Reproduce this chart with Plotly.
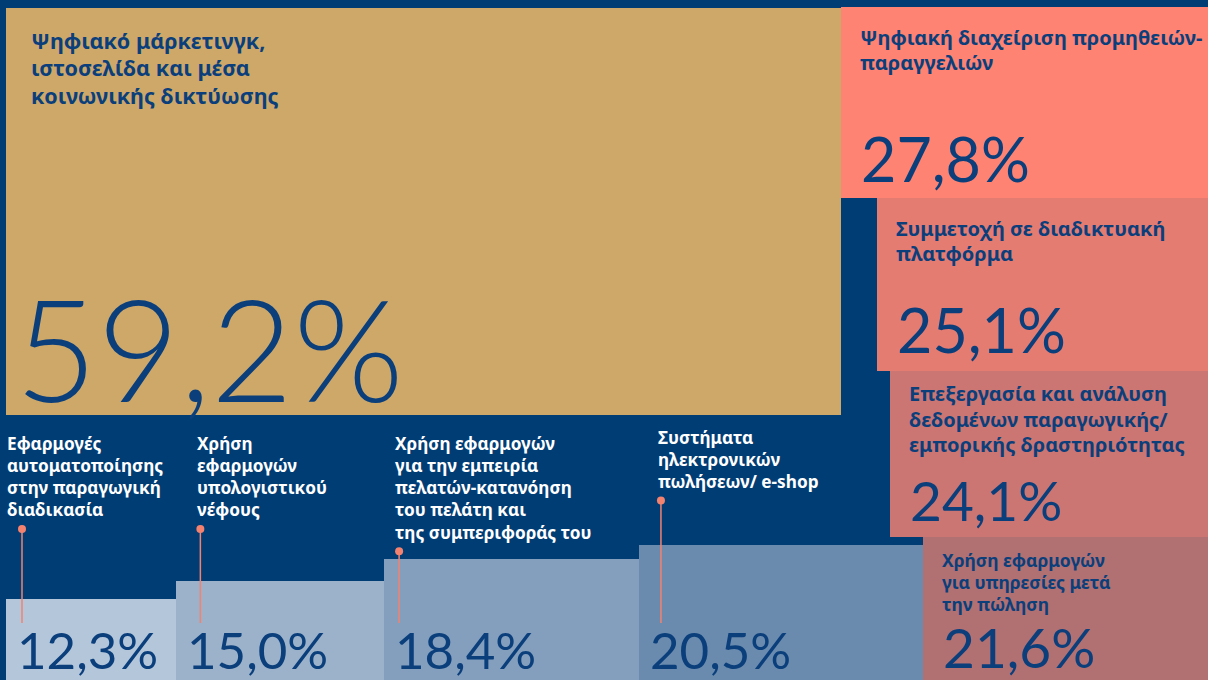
import plotly.graph_objects as go

# ---------------- DATA ----------------
main_label = ["Ψηφιακό μάρκετινγκ,", "ιστοσελίδα και μέσα", "κοινωνικής δικτύωσης"]
main_value = 59.2

right_labels = [
    ["Ψηφιακή διαχείριση προμηθειών-", "παραγγελιών"],
    ["Συμμετοχή σε διαδικτυακή", "πλατφόρμα"],
    ["Επεξεργασία και ανάλυση", "δεδομένων παραγωγικής/", "εμπορικής δραστηριότητας"],
    ["Χρήση εφαρμογών", "για υπηρεσίες μετά", "την πώληση"],
]
right_values = [27.8, 25.1, 24.1, 21.6]

bottom_labels = [
    ["Εφαρμογές", "αυτοματοποίησης", "στην παραγωγική", "διαδικασία"],
    ["Χρήση", "εφαρμογών", "υπολογιστικού", "νέφους"],
    ["Χρήση εφαρμογών", "για την εμπειρία", "πελατών-κατανόηση", "του πελάτη και", "της συμπεριφοράς του"],
    ["Συστήματα", "ηλεκτρονικών", "πωλήσεων/ e-shop"],
]
bottom_values = [12.3, 15.0, 18.4, 20.5]

# ---------------- STYLE / LAYOUT ----------------
W, H = 1208, 680
TOP, LEFT = 7, 6
KX_RIGHT = 13.2      # px per % (width, right column)
KY_TOP = 6.88        # px per % (height, upper blocks)
KY_BOT = 6.6         # px per % (height, bottom row)

BG = "#013d75"
NAVY = "#0b3f7c"
PIN = "#f4826f"
main_color = "#cea869"
right_colors = ["#fe8372", "#e57c72", "#cb7672", "#b17071"]
bottom_colors = ["#b4c6da", "#9cb2ca", "#839fbd", "#6a8bae"]

LABEL_FONT = "Noto Sans"
NUM_FONT = "Lato"

def fmt(v):
    return f"{v:.1f}%".replace(".", ",")

# ---------------- GEOMETRY FROM DATA ----------------
rects = []  # (x0, x1, y0, y1, color)

right_geo = []
y = TOP
for i, v in enumerate(right_values):
    x0 = W - v * KX_RIGHT
    if i < len(right_values) - 1:
        y0, y1 = y, y + v * KY_TOP
        y = y1
    else:
        y0, y1 = H - v * KY_BOT, H
    right_geo.append((x0, W, y0, y1))
    rects.append((x0, W, y0, y1, right_colors[i]))

main_geo = (LEFT, right_geo[0][0], TOP + 1, TOP + 1 + main_value * KY_TOP)
rects.insert(0, main_geo + (main_color,))

kx_bot = (right_geo[-1][0] - LEFT) / sum(bottom_values)
bottom_geo = []
x = LEFT
for i, v in enumerate(bottom_values):
    x0, x1 = x, x + v * kx_bot
    x = x1
    bottom_geo.append((x0, x1, H - v * KY_BOT, H))
    rects.append((x0, x1, H - v * KY_BOT, H, bottom_colors[i]))

fig = go.Figure()
fig.add_trace(go.Bar(
    x=[(r[0] + r[1]) / 2 for r in rects],
    width=[r[1] - r[0] for r in rects],
    base=[r[2] for r in rects],
    y=[r[3] - r[2] for r in rects],
    marker=dict(color=[r[4] for r in rects], line=dict(width=0)),
    hoverinfo="skip",
    showlegend=False,
))

ann = []

def add_lines(lines, x, y_first, step, size, color, font=LABEL_FONT, weight=700):
    for k, t in enumerate(lines):
        ann.append(dict(x=x, y=y_first + k * step, text=t, showarrow=False,
                        xanchor="left", yanchor="middle", borderpad=0,
                        font=dict(family=font, size=size, color=color, weight=weight)))

def add_value(v, x, y, size, weight=400):
    ann.append(dict(x=x, y=y, text=fmt(v), showarrow=False,
                    xanchor="left", yanchor="middle", borderpad=0,
                    font=dict(family=NUM_FONT, size=size, color=NAVY, weight=weight)))

# main
add_lines(main_label, main_geo[0] + 24, main_geo[2] + 32, 27.5, 21.5, NAVY)
add_value(main_value, main_geo[0] + 8, main_geo[3] - 68, 142, weight=300)

# right column
r_label_dy = [30, 30, 23, 23]
r_step = [25, 25, 25.5, 21.8]
r_size = [20, 20, 20, 17.5]
r_val_dy = [40, 41, 37, 33]
r_val_size = [61, 61, 55, 55]
for i, v in enumerate(right_values):
    x0, x1, y0, y1 = right_geo[i]
    add_lines(right_labels[i], x0 + 18, y0 + r_label_dy[i], r_step[i], r_size[i], NAVY)
    add_value(v, x0 + 19, y1 - r_val_dy[i], r_val_size[i])

# bottom row
b_label_dx = [0, 20, 10, 18]
b_label_y = [443, 443, 443, 437]
b_pin_dx = [16, 24, 15, 22]
pin_x, pin_y = [], []
dot_x, dot_y = [], []
for i, v in enumerate(bottom_values):
    x0, x1, y0, y1 = bottom_geo[i]
    lines = bottom_labels[i]
    add_lines(lines, x0 + b_label_dx[i], b_label_y[i], 22.3, 17.2, "white")
    add_value(v, x0 + 10, H - 31, 51)
    px = x0 + b_pin_dx[i]
    top = b_label_y[i] + (len(lines) - 1) * 22.3 + 19
    pin_x += [px, px, None]
    pin_y += [top, H - 57, None]
    dot_x.append(px)
    dot_y.append(top)

fig.add_trace(go.Scatter(x=pin_x, y=pin_y, mode="lines",
                         line=dict(color=PIN, width=1.5), hoverinfo="skip", showlegend=False))
fig.add_trace(go.Scatter(x=dot_x, y=dot_y, mode="markers",
                         marker=dict(color=PIN, size=8), hoverinfo="skip", showlegend=False))

fig.update_layout(
    width=W, height=H,
    margin=dict(l=0, r=0, t=0, b=0),
    paper_bgcolor=BG, plot_bgcolor=BG,
    barmode="overlay", bargap=0,
    xaxis=dict(range=[0, W], visible=False, fixedrange=True),
    yaxis=dict(range=[H, 0], visible=False, fixedrange=True),
    annotations=ann,
    showlegend=False,
)

fig.write_html(
    "out.html",
    config={"displayModeBar": False},
    post_script="document.body.style.margin='0';document.body.style.overflow='hidden';document.body.style.background='" + BG + "';",
)
